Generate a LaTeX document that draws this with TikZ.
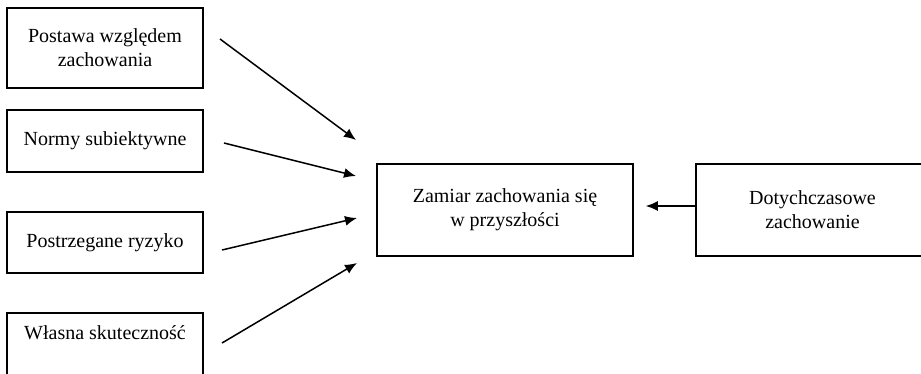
\documentclass[tikz,border=0pt]{standalone}
\usepackage{fontspec}
\setmainfont{Liberation Serif}
\usetikzlibrary{arrows.meta}

\begin{document}
\begin{tikzpicture}[x=1pt,y=-1pt,
  box/.style={draw, line width=1.5pt, align=center, inner sep=0pt, font=\fontsize{20}{24}\selectfont},
  arr/.style={->, >={Latex[length=12pt,width=10pt]}, line width=1.5pt}]
\useasboundingbox (0,0) rectangle (921,373);
\node[box, minimum width=196pt, minimum height=80pt] (postawa) at (105,48) {Postawa względem\\zachowania};
\node[box, minimum width=196pt, minimum height=62pt] (normy) at (105,141) {Normy subiektywne};
\node[box, minimum width=196pt, minimum height=61pt] (ryzyko) at (105,242.5) {Postrzegane ryzyko};
\node[box, minimum width=196pt, minimum height=62pt, text depth=22pt] (skutecznosc) at (105,344) {Własna skuteczność};
\node[box, minimum width=256pt, minimum height=92pt] (zamiar) at (505,210) {Zamiar zachowania się\\w przyszłości};
\node[box, minimum width=233pt, minimum height=92pt] (dotych) at (812.5,210) {Dotychczasowe\\zachowanie};

\coordinate (s1) at (220,39);
\coordinate (t1) at (356,140);
\coordinate (s2) at (224,143);
\coordinate (t2) at (356,176);
\coordinate (s3) at (222,250);
\coordinate (t3) at (357,218);
\coordinate (s4) at (222,343);
\coordinate (t4) at (357,263);
\draw[arr] (s1) -- (t1);
\draw[arr] (s2) -- (t2);
\draw[arr] (s3) -- (t3);
\draw[arr] (s4) -- (t4);
\draw[arr] ([yshift=4pt]dotych.west) -- ([yshift=4pt,xshift=12pt]zamiar.east);
\end{tikzpicture}
\end{document}
